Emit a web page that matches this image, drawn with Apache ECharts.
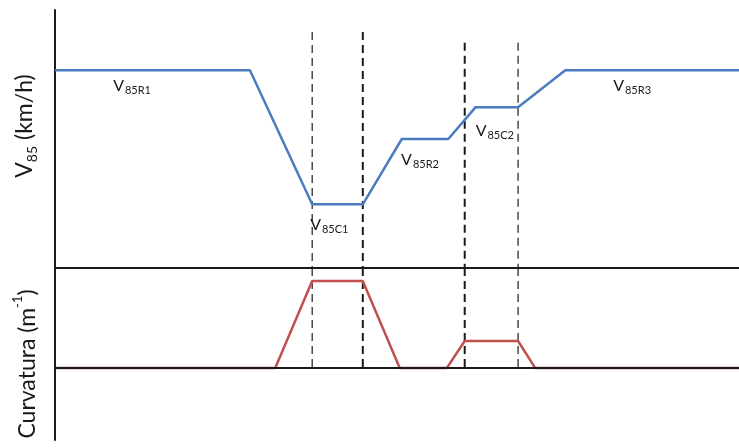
<!DOCTYPE html>
<html>
<head>
<meta charset="utf-8">
<style>
  html, body { margin: 0; padding: 0; background: #fff; }
  #chart { width: 739px; height: 448px; }
</style>
<script src="https://cdn.jsdelivr.net/npm/echarts@6/dist/echarts.min.js"></script>
</head>
<body>
<div id="chart"></div>
<script>
// Operating speed (V85) and curvature profiles along the alignment
const stationMax = 1000;

// V85 profile (km/h) against station
const speedX = [0, 285, 376, 450, 507, 575, 615, 677, 746, 1000];
const speedY = [100, 100, 60, 60, 79.5, 79.5, 89, 89, 100, 100];

// curvature profile (1/m) against station
const curvX = [0, 322, 376, 450, 504, 573, 599, 677, 702, 1000];
const curvY = [0, 0, 0.01, 0.01, 0, 0, 0.0031, 0.0031, 0, 0];

// curve start / end guides
const guideX = [376, 450, 599, 677];
const guideTop = [111.4, 111.4, 108.2, 108.2];
const guideWidth = [1.2, 2, 2, 1.2];

// segment annotations
const labelSub = ['85R1', '85C1', '85R2', '85C2', '85R3'];
const labelX = [85, 373, 506, 615, 816];
const labelY = [95, 53.5, 72.9, 81.6, 95];

const FONT = 'Lato, "Open Sans", sans-serif';
const INK = '#1a1a1a';
const BLUE = '#4a7dbf';
const RED = '#c0504d';

const chart = echarts.init(document.getElementById('chart'));

const zip = (xs, ys) => xs.map((x, i) => [x, ys[i]]);

const annotRich = {
  v: { fontSize: 16, fontFamily: FONT, color: INK, lineHeight: 18, verticalAlign: 'top' },
  s: { fontSize: 11, fontFamily: FONT, color: INK, lineHeight: 11, padding: [12, 0, 0, 1], verticalAlign: 'bottom' }
};

const guideSeries = [];
guideX.forEach((gx, i) => {
  const ls = { color: INK, width: guideWidth[i], type: [8, 5] };
  guideSeries.push({
    type: 'line', xAxisIndex: 0, yAxisIndex: 0, symbol: 'none', silent: true, z: 1,
    lineStyle: ls, data: [[gx, guideTop[i]], [gx, 41]]
  });
  guideSeries.push({
    type: 'line', xAxisIndex: 1, yAxisIndex: 1, symbol: 'none', silent: true, z: 1,
    lineStyle: ls, data: [[gx, 0.0115], [gx, 0]]
  });
});

const axisCommon = {
  axisTick: { show: false },
  axisLabel: { show: false },
  splitLine: { show: false },
  axisLine: { show: true, lineStyle: { color: INK, width: 2 } }
};

chart.setOption({
  animation: false,
  backgroundColor: '#fff',
  grid: [
    { left: 55, right: 0, top: 10, height: 258 },
    { left: 55, right: 0, top: 268, height: 172 }
  ],
  xAxis: [
    Object.assign({ type: 'value', gridIndex: 0, min: 0, max: stationMax, z: 3 }, axisCommon),
    Object.assign({ type: 'value', gridIndex: 1, min: 0, max: stationMax, z: 3 }, axisCommon)
  ],
  yAxis: [
    Object.assign({
      type: 'value', gridIndex: 0, min: 41, max: 118,
      name: '{v|V}{s|85}{v| (km/h)}',
      nameLocation: 'middle', nameGap: 16,
      nameTextStyle: {
        padding: [0, 0, 0, 26],
        rich: {
          v: { fontSize: 23, fontFamily: FONT, color: INK, lineHeight: 26, verticalAlign: 'top' },
          s: { fontSize: 14, fontFamily: FONT, color: INK, lineHeight: 14, padding: [14, 0, 0, 0], verticalAlign: 'bottom' }
        }
      }
    }, axisCommon),
    Object.assign({
      type: 'value', gridIndex: 1, min: -0.0083, max: 0.0115,
      name: '{v|Curvatura (m}{p|-1}{v|)}',
      nameLocation: 'middle', nameGap: 16,
      nameTextStyle: {
        padding: [0, 20, 0, 0],
        rich: {
          v: { fontSize: 23, fontFamily: FONT, color: INK, lineHeight: 28, verticalAlign: 'bottom' },
          p: { fontSize: 13, fontFamily: FONT, color: INK, lineHeight: 13, verticalAlign: 'top' }
        }
      }
    }, axisCommon)
  ],
  series: [
    ...guideSeries,
    {
      name: 'V85', type: 'line', xAxisIndex: 0, yAxisIndex: 0,
      symbol: 'none', z: 2,
      lineStyle: { color: BLUE, width: 2.5 },
      data: zip(speedX, speedY),
      markPoint: {
        symbol: 'circle', symbolSize: 0, silent: true,
        label: {
          show: true, position: 'right', distance: 0,
          formatter: p => '{v|V}{s|' + p.name + '}',
          rich: annotRich
        },
        data: labelSub.map((s, i) => ({ name: s, coord: [labelX[i], labelY[i]] }))
      }
    },
    {
      name: 'Curvatura', type: 'line', xAxisIndex: 1, yAxisIndex: 1,
      symbol: 'none', z: 2,
      lineStyle: { color: RED, width: 2.5 },
      data: zip(curvX, curvY)
    }
  ]
});
</script>
</body>
</html>
